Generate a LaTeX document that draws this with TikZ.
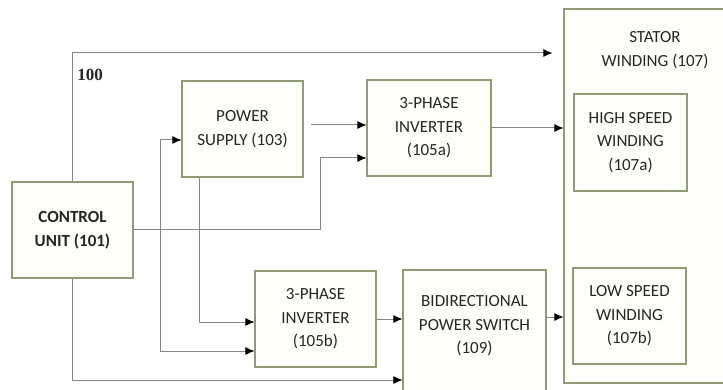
\documentclass[tikz,border=0pt]{standalone}
\usepackage{fontspec}
\setmainfont{Carlito}
\newfontfamily\numFont{Liberation Serif}
\usepackage{tikz}
\usetikzlibrary{arrows.meta, positioning, calc}
\definecolor{boxEdge}{HTML}{8E9B74}
\definecolor{boxFill}{HTML}{FEFEF9}
\definecolor{wireGray}{HTML}{858585}
\definecolor{inkDark}{HTML}{262626}
\tikzset{
    % Blocks
    blockBox/.style={rectangle, draw=boxEdge, fill=boxFill, line width=1.1pt,
        align=center, inner sep=0pt, text=inkDark,
        font={\fontsize{17}{23.5}\selectfont}},
    blockText/.style={align=center, inner sep=0pt, text=inkDark,
        font={\fontsize{17}{23.5}\selectfont}},
    % Wires
    wire/.style={draw=wireGray, line width=1pt},
    wireArrow/.style={wire, -{Latex[length=9pt,width=8pt,color=black]}},
    refLabel/.style={font={\numFont\bfseries\fontsize{17}{19}\selectfont}, text=inkDark}
}
\begin{document}
\begin{tikzpicture}[x=1pt, y=-1pt]
    \clip (0,0) rectangle (723,390);
    \fill[white] (0,0) rectangle (723,390);
    % stator and windings
    \node[blockBox, minimum width=171, minimum height=374] (stator) at (649.5,196) {};
    \node[blockText] (statorText) at (655,50) {STATOR\\WINDING (107)};
    \node[blockBox, minimum width=113, minimum height=97] (highWind) at (630.5,142.5) {HIGH SPEED\\WINDING\\(107a)};
    \node[blockBox, minimum width=113, minimum height=96] (lowWind) at (629.5,316) {LOW SPEED\\WINDING\\(107b)};
    % other blocks
    \node[blockBox, minimum width=121, minimum height=96, font={\fontsize{17}{23.5}\selectfont\bfseries}] (control) at (72.5,230) {CONTROL\\UNIT (101)};
    \node[blockBox, minimum width=121, minimum height=96] (supply) at (242.5,129) {POWER\\SUPPLY (103)};
    \node[blockBox, minimum width=124, minimum height=96] (invA) at (429,128) {3-PHASE\\INVERTER\\(105a)};
    \node[blockBox, minimum width=121, minimum height=96] (invB) at (315.5,319) {3-PHASE\\INVERTER\\(105b)};
    \node[blockBox, minimum width=143, minimum height=130] (bidir) at (474.5,335) {};
    \node[blockText] (bidirText) at (474.5,326) {BIDIRECTIONAL\\POWER SWITCH\\(109)};
    \node[refLabel] (sysLabel) at (90,75) {100};
    % junctions
    \coordinate (jLeft) at (160,230);
    \coordinate (jRight) at (320,230);
    \coordinate (bidirOut) at ($(bidir.east)+(0,-18)$);
    % wires
    \draw[wireArrow, shorten >=11pt] (control.north) |- (stator.west |- 0,53);
    \draw[wire] (control.east) -- (jRight);
    \draw[wireArrow] (jRight) |- ($(invA.west)+(0,30)$);
    \draw[wireArrow] (jLeft) |- ($(supply.west)+(0,11)$);
    \draw[wireArrow] (jLeft) |- ($(invB.west)+(0,32)$);
    \draw[wireArrow] ($(supply.south west)+(18,0)$) |- ($(invB.west)+(0,3)$);
    \draw[wireArrow, shorten <=7pt] ($(supply.east)+(0,-4)$) -- ($(invA.west)+(0,-3)$);
    \draw[wireArrow] (invA.east) -- (invA.east -| stator.west);
    \draw[wireArrow] (invB.east) -- (invB.east -| bidir.west);
    \draw[wireArrow] (bidirOut) -- (bidirOut -| stator.west);
    \draw[wireArrow] (control.south) |- ($(bidir.west)+(0,45)$);
\end{tikzpicture}
\end{document}
